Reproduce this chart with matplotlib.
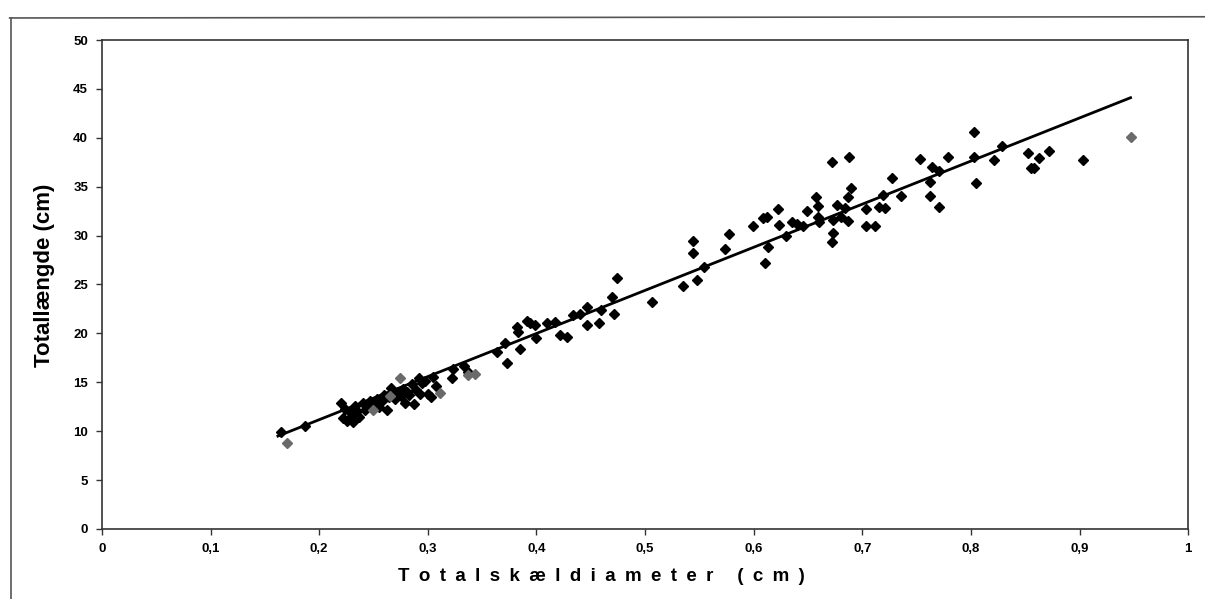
import matplotlib
matplotlib.use('Agg')
import matplotlib.pyplot as plt
from matplotlib.lines import Line2D
from matplotlib.ticker import FuncFormatter

plt.rcParams['font.family'] = ['Liberation Sans', 'DejaVu Sans']

# black diamonds
dia_x = [0.165, 0.187,
         0.220, 0.222, 0.224, 0.226, 0.228, 0.230, 0.231, 0.233, 0.235, 0.237,
         0.240, 0.242, 0.245, 0.247, 0.249, 0.251, 0.253, 0.255, 0.258, 0.260,
         0.262, 0.264, 0.266, 0.268, 0.270, 0.273, 0.275, 0.277, 0.279, 0.281,
         0.283, 0.285, 0.287, 0.289, 0.292, 0.293, 0.295, 0.297, 0.300, 0.303,
         0.305, 0.308, 0.322, 0.323, 0.333, 0.337,
         0.364, 0.371, 0.373, 0.382, 0.383, 0.385, 0.391, 0.394, 0.399, 0.400,
         0.410, 0.417, 0.422, 0.428, 0.434, 0.440, 0.447, 0.447, 0.459, 0.458,
         0.470, 0.471, 0.474, 0.506,
         0.535, 0.544, 0.544, 0.548, 0.554, 0.574, 0.577, 0.599, 0.609, 0.612,
         0.610, 0.613, 0.622, 0.623, 0.630, 0.635, 0.640, 0.645, 0.649, 0.657,
         0.659, 0.659, 0.660, 0.672, 0.672, 0.673, 0.673, 0.677, 0.680, 0.684,
         0.687, 0.687, 0.688, 0.690, 0.703, 0.703, 0.712, 0.715, 0.719, 0.721,
         0.727, 0.736, 0.753, 0.762, 0.762, 0.764, 0.771, 0.771, 0.779, 0.803,
         0.803, 0.805, 0.821, 0.829, 0.853, 0.855, 0.858, 0.863, 0.872, 0.903]
dia_y = [9.9, 10.5,
         12.9, 11.3, 12.3, 11.0, 12.0, 11.6, 10.9, 12.6, 12.1, 11.5,
         12.9, 12.2, 12.6, 13.1, 12.4, 12.8, 13.3, 12.5, 13.1, 13.7,
         12.2, 13.5, 14.4, 13.9, 13.3, 14.0, 13.6, 14.3, 12.9, 14.0,
         13.7, 14.8, 12.8, 14.2, 15.4, 13.8, 14.9, 15.1, 13.8, 13.5,
         15.5, 14.6, 15.4, 16.4, 16.7, 16.1,
         18.1, 19.0, 17.0, 20.7, 20.1, 18.4, 21.3, 21.1, 20.9, 19.5,
         21.1, 21.2, 19.8, 19.6, 21.9, 22.0, 22.7, 20.9, 22.4, 21.1,
         23.7, 22.0, 25.7, 23.2,
         24.8, 29.4, 28.2, 25.5, 26.8, 28.6, 30.2, 31.0, 31.8, 31.9,
         27.2, 28.8, 32.7, 31.1, 30.0, 31.4, 31.2, 31.0, 32.5, 33.9,
         33.0, 31.9, 31.4, 37.5, 29.3, 31.6, 30.3, 33.1, 31.9, 32.8,
         31.5, 33.9, 38.0, 34.9, 32.7, 31.0, 31.0, 32.9, 34.2, 32.8,
         35.9, 34.0, 37.8, 34.0, 35.5, 37.0, 32.9, 36.6, 38.0, 40.6,
         38.0, 35.4, 37.7, 39.2, 38.4, 36.9, 36.9, 37.9, 38.6, 37.7]

# grey diamonds
grey_x = [0.170, 0.250, 0.265, 0.274, 0.311, 0.337, 0.343, 0.947]
grey_y = [8.8, 12.2, 13.6, 15.4, 13.9, 15.7, 15.8, 40.1]

# fitted line (end points)
trend_x = [0.162, 0.947]
trend_y = [9.5, 44.1]

x_ticks = [0, 0.1, 0.2, 0.3, 0.4, 0.5, 0.6, 0.7, 0.8, 0.9, 1]
y_ticks = [0, 5, 10, 15, 20, 25, 30, 35, 40, 45, 50]

fig = plt.figure(figsize=(12.05, 5.99), dpi=100)
ax = fig.add_axes([0.0846, 0.1169, 0.9014, 0.8163])

ax.plot(trend_x, trend_y, color='black', lw=2.0, zorder=2)
ax.plot(dia_x, dia_y, 'D', color='black', ms=5.5, mec='black', zorder=3)
ax.plot(grey_x, grey_y, 'D', color='#6a6a6a', ms=5.5, mec='#6a6a6a', zorder=3)

ax.set_xlim(0, 1)
ax.set_ylim(0, 50)
ax.set_xticks(x_ticks)
ax.set_yticks(y_ticks)
ax.xaxis.set_major_formatter(FuncFormatter(lambda v, p: ('%g' % v).replace('.', ',')))
ax.tick_params(direction='out', length=4, width=1, color='#333333', labelsize=9.5, pad=6)
for lab in ax.get_xticklabels() + ax.get_yticklabels():
    lab.set_fontweight('bold')
for s in ax.spines.values():
    s.set_color('#333333')
    s.set_linewidth(1.2)

# axis titles, placed like in the scanned chart
fig.text(0.037, 0.541, 'Totallængde (cm)', rotation=90, ha='center', va='center',
         fontsize=16, fontweight='bold')
fig.text(0.499, 0.037, '\u2002'.join('Totalskældiameter (cm)'), ha='center', va='center',
         fontsize=13.5, fontweight='bold')

# outer chart frame (scanned Excel chart)
fig.add_artist(Line2D([0.008, 1.0], [0.970, 0.972], transform=fig.transFigure, color='#555555', lw=1.2))
fig.add_artist(Line2D([0.009, 0.009], [0.970, 0.0], transform=fig.transFigure, color='#555555', lw=1.2))

fig.savefig('out.png', dpi=100)
